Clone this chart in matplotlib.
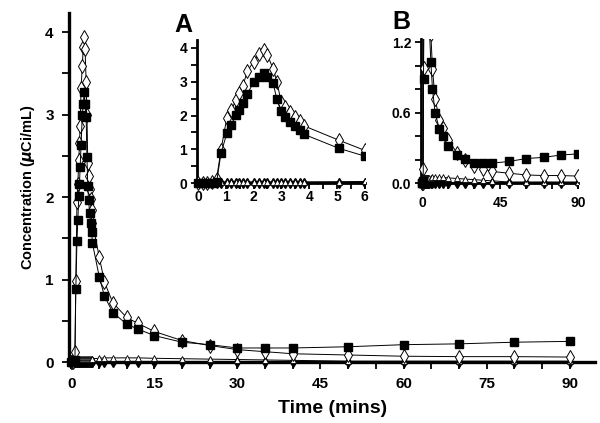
import matplotlib
matplotlib.use('Agg')
import matplotlib.pyplot as plt
from matplotlib.ticker import MultipleLocator, FormatStrFormatter
from matplotlib.patches import Rectangle

plt.rcParams['font.family'] = ['Liberation Sans', 'DejaVu Sans']
plt.rcParams['font.weight'] = 'bold'
plt.rcParams['mathtext.default'] = 'it'

# sampling times (mins)
time = [0, 0.17, 0.33, 0.5, 0.67, 0.83, 1.04, 1.19, 1.37, 1.49, 1.61, 1.78, 2.0, 2.18,
        2.36, 2.5, 2.7, 2.84, 2.99, 3.14, 3.32, 3.5, 3.68, 3.83, 5.07, 6, 7.5, 10, 12,
        15, 20, 25, 30, 35, 40, 50, 60, 70, 80, 90]

# filled squares
squares = [0, 0, 0, 0, 0.02, 0.89, 1.47, 1.72, 2.01, 2.16, 2.36, 2.63, 3.0, 3.13,
           3.27, 3.13, 2.97, 2.48, 2.13, 1.96, 1.81, 1.69, 1.57, 1.44, 1.03, 0.80, 0.60,
           0.46, 0.40, 0.32, 0.24, 0.21, 0.17, 0.17, 0.17, 0.185, 0.21, 0.22, 0.24, 0.25]

# open diamonds
diamonds = [0, 0, 0, 0.02, 0.12, 0.98, 1.94, 2.16, 2.45, 2.66, 2.86, 3.32, 3.59, 3.82,
            3.94, 3.79, 3.39, 3.0, 2.41, 2.25, 2.1, 1.97, 1.84, 1.69, 1.27, 0.97, 0.72,
            0.54, 0.47, 0.37, 0.26, 0.20, 0.15, 0.125, 0.10, 0.085, 0.07, 0.065, 0.065, 0.06]

# open triangles
triangles = [0, 0, 0, 0, 0, 0.04, 0.04, 0.04, 0.04, 0.04, 0.04, 0.04, 0.04, 0.04,
             0.04, 0.04, 0.04, 0.04, 0.04, 0.04, 0.04, 0.04, 0.04, 0.04, 0.045, 0.05, 0.05,
             0.05, 0.05, 0.045, 0.04, 0.035, 0.03, 0.025, 0.02, 0.01, 0.01, 0.01, 0.01, 0.01]

# filled small diamonds (near zero)
zeros = [0, 0, 0, 0, 0, 0, 0, 0, 0, 0, 0, 0, 0, 0,
         0, 0, 0, 0, 0, 0, 0, 0, 0, 0, 0, 0, 0,
         0, 0, 0, 0, 0, 0, 0, 0, 0, 0, 0, 0, 0]


def draw_series(ax, ms=1.0, inset=False):
    lines = []
    lines += ax.plot(time, zeros, color='black', lw=1.5, marker='d', ms=5 * ms,
                     mfc='black', mec='black', zorder=3)
    lines += ax.plot(time, triangles, color='black', lw=0.7, marker='^', ms=4.5 * ms,
                     mfc='white', mec='black', mew=0.6, zorder=4)
    lines += ax.plot(time, diamonds, color='black', lw=0.7, marker='d', ms=7 * ms,
                     mfc='white', mec='black', mew=0.7, zorder=5)
    lines += ax.plot(time, squares, color='black', lw=0.7, marker='s', ms=5.5 * ms,
                     mfc='black', mec='black', zorder=6)
    # let markers sitting on the zero line show in full, clip only right/top
    if inset:
        clip = Rectangle((-0.06, -0.1), 1.06, 1.1, transform=ax.transAxes)
        for ln in lines:
            ln.set_clip_path(clip)
    else:
        for ln in lines:
            ln.set_clip_on(False)


def style_axes(ax, lw, fs, xpad, ypad, tl=4):
    for side in ['top', 'right']:
        ax.spines[side].set_visible(False)
    for side in ['left', 'bottom']:
        ax.spines[side].set_linewidth(lw)
    ax.tick_params(which='both', direction='out', length=tl, width=1.3, labelsize=fs)
    ax.tick_params(axis='x', pad=xpad)
    ax.tick_params(axis='y', pad=ypad)
    for lab in ax.get_xticklabels() + ax.get_yticklabels():
        lab.set_fontweight('bold')


fig = plt.figure(figsize=(6, 4.23), dpi=100)

# main plot
ax = fig.add_axes([0.115, 0.1442, 0.877, 0.825])
draw_series(ax)
ax.set_xlim(-0.4, 94.6)
ax.set_ylim(0, 4.23)
ax.xaxis.set_major_locator(MultipleLocator(15))
ax.xaxis.set_minor_locator(MultipleLocator(5))
ax.yaxis.set_major_locator(MultipleLocator(1))
ax.yaxis.set_minor_locator(MultipleLocator(0.5))
style_axes(ax, 2.4, 11, 6, 6, tl=5)
ax.set_xlabel('Time (mins)', fontsize=14, fontweight='bold', labelpad=6)
ax.set_ylabel('Concentration ($\\mu$Ci/mL)', fontsize=10.5, fontweight='bold', labelpad=6)

# inset A
axA = fig.add_axes([0.328, 0.567, 0.28, 0.338])
draw_series(axA, inset=True)
axA.set_xlim(-0.04, 6.0)
axA.set_ylim(0, 4.23)
axA.xaxis.set_major_locator(MultipleLocator(1))
axA.xaxis.set_minor_locator(MultipleLocator(0.5))
axA.yaxis.set_major_locator(MultipleLocator(1))
axA.yaxis.set_minor_locator(MultipleLocator(0.5))
style_axes(axA, 2.0, 10, 1, 3)
fig.text(183 / 600, 1 - 25 / 423, 'A', fontsize=18, fontweight='bold',
         ha='center', va='center')

# inset B
axB = fig.add_axes([0.702, 0.567, 0.262, 0.341])
draw_series(axB, ms=1.05, inset=True)
axB.set_xlim(-0.5, 90)
axB.set_ylim(0, 1.23)
axB.xaxis.set_major_locator(MultipleLocator(45))
axB.xaxis.set_minor_locator(MultipleLocator(15))
axB.yaxis.set_major_locator(MultipleLocator(0.6))
axB.yaxis.set_minor_locator(MultipleLocator(0.2))
axB.yaxis.set_major_formatter(FormatStrFormatter('%.1f'))
style_axes(axB, 2.0, 10, 5, 3)
fig.text(401 / 600, 1 - 22 / 423, 'B', fontsize=18, fontweight='bold',
         ha='center', va='center')

fig.savefig('out.png', dpi=100)
